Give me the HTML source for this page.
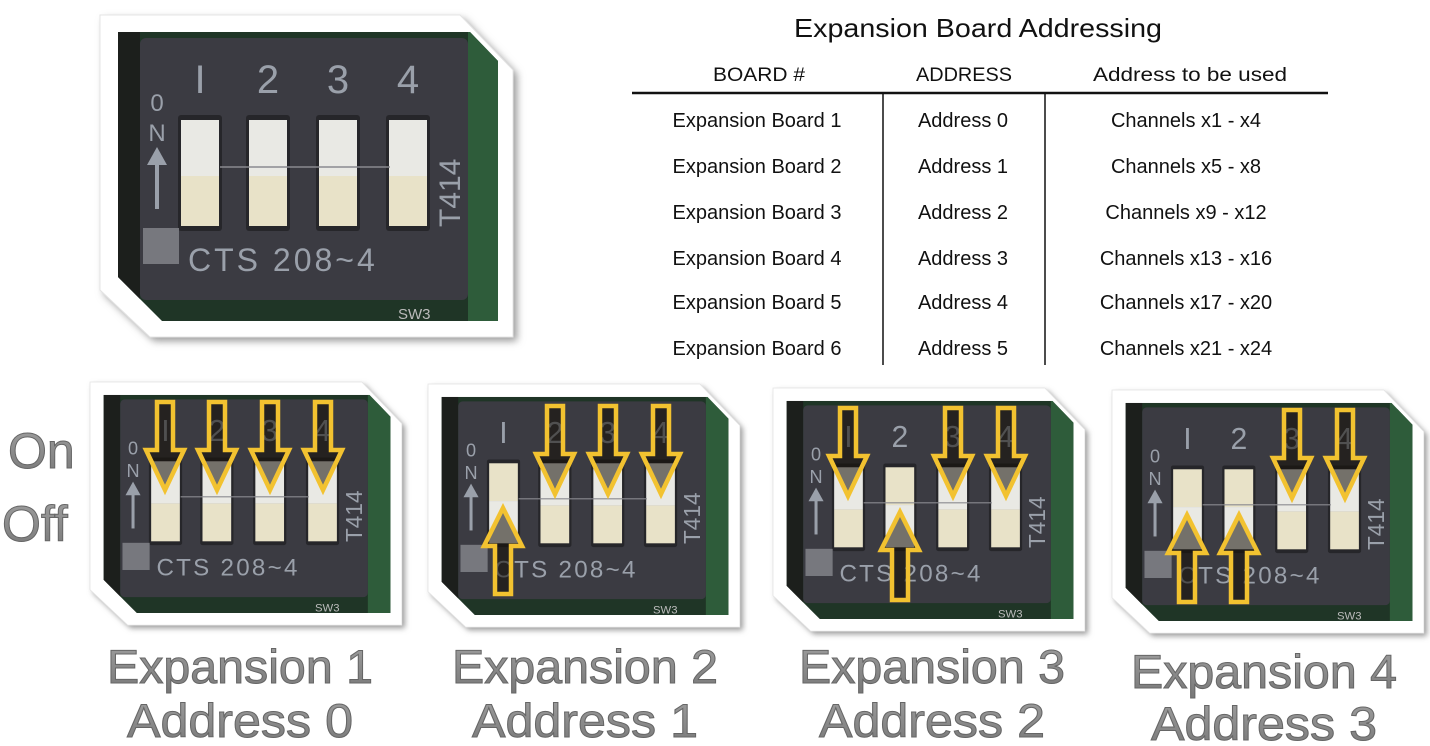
<!DOCTYPE html>
<html><head><meta charset="utf-8"><style>
html,body{margin:0;padding:0;background:#fff;}
svg{display:block;}
.t{font-family:"Liberation Sans",sans-serif;}
</style></head><body>
<svg width="1430" height="746" viewBox="0 0 1430 746" xmlns="http://www.w3.org/2000/svg">
<defs>
<filter id="sh" x="-10%" y="-10%" width="120%" height="120%"><feGaussianBlur stdDeviation="4"/></filter>
<linearGradient id="gt" x1="0" y1="0" x2="0" y2="1"><stop offset="0" stop-color="#a0a0a0"/><stop offset="1" stop-color="#777"/></linearGradient>
<clipPath id="fc"><polygon points="18,17 370,17 398,46 398,306 62,306 18,262"/></clipPath>
</defs>

<g transform="translate(100,15)">
 <polygon points="4,4 364,4 417,59 417,326 54,326 4,279" fill="#999" filter="url(#sh)"/>
 <polygon points="0,0 360,0 413,55 413,322 50,322 0,275" fill="#fff" stroke="#e4e4e4"/>
 <g clip-path="url(#fc)">
 <rect x="0" y="0" width="413" height="322" fill="#1f3526"/>
 <rect x="368" y="17" width="40" height="291" fill="#2e5c3a"/>
 <rect x="18" y="17" width="22" height="291" fill="#1c1f1c"/>
 <rect x="40" y="23" width="328" height="262" rx="6" fill="#3b3b42"/>
 <rect x="78" y="100" width="44" height="116" rx="3" fill="#26262a"/><rect x="146" y="100" width="44" height="116" rx="3" fill="#26262a"/><rect x="216" y="100" width="44" height="116" rx="3" fill="#26262a"/><rect x="286" y="100" width="44" height="116" rx="3" fill="#26262a"/>
 <rect x="81" y="105" width="38" height="56" fill="#e9e9e4"/><rect x="81" y="161" width="38" height="50" fill="#e8e2c8"/>
 <rect x="149" y="105" width="38" height="56" fill="#e9e9e4"/><rect x="149" y="161" width="38" height="50" fill="#e8e2c8"/>
 <rect x="219" y="105" width="38" height="56" fill="#e9e9e4"/><rect x="219" y="161" width="38" height="50" fill="#e8e2c8"/>
 <rect x="289" y="105" width="38" height="56" fill="#e9e9e4"/><rect x="289" y="161" width="38" height="50" fill="#e8e2c8"/>
 <line x1="120" y1="152" x2="290" y2="152" stroke="#8a8a90" stroke-width="1.5"/>
 <g class="t" fill="#9aa0aa" font-size="40" text-anchor="middle"><text x="100" y="78">I</text><text x="168" y="78">2</text><text x="238" y="78">3</text><text x="308" y="78">4</text></g>
 <g class="t" fill="#9aa0aa" font-size="24" text-anchor="middle"><text x="57" y="96">0</text><text x="57" y="126">N</text></g>
 <polygon points="57,132 67,150 47,150" fill="#9aa0aa"/><rect x="55" y="148" width="4" height="46" fill="#9aa0aa"/>
 <rect x="43" y="213" width="36" height="36" fill="#77787e"/>
 <text class="t" x="88" y="256" font-size="32" fill="#9aa0aa" letter-spacing="3">CTS 208~4</text>
 <text class="t" x="0" y="0" font-size="30" fill="#9aa0aa" transform="translate(360,212) rotate(-90)">T414</text>
 <text class="t" x="298" y="304" font-size="15" fill="#bbb">SW3</text>
 </g>
</g>

<g transform="translate(90,382) scale(0.755)">
 <polygon points="4,4 364,4 417,59 417,326 54,326 4,279" fill="#999" filter="url(#sh)"/>
 <polygon points="0,0 360,0 413,55 413,322 50,322 0,275" fill="#fff" stroke="#e4e4e4"/>
 <g clip-path="url(#fc)">
 <rect x="0" y="0" width="413" height="322" fill="#1f3526"/>
 <rect x="368" y="17" width="40" height="291" fill="#2e5c3a"/>
 <rect x="18" y="17" width="22" height="291" fill="#1c1f1c"/>
 <rect x="40" y="23" width="328" height="262" rx="6" fill="#3b3b42"/>
 <rect x="78" y="100" width="44" height="116" rx="3" fill="#26262a"/><rect x="146" y="100" width="44" height="116" rx="3" fill="#26262a"/><rect x="216" y="100" width="44" height="116" rx="3" fill="#26262a"/><rect x="286" y="100" width="44" height="116" rx="3" fill="#26262a"/>
 <rect x="81" y="105" width="38" height="56" fill="#e9e9e4"/><rect x="81" y="161" width="38" height="50" fill="#e8e2c8"/>
 <rect x="149" y="105" width="38" height="56" fill="#e9e9e4"/><rect x="149" y="161" width="38" height="50" fill="#e8e2c8"/>
 <rect x="219" y="105" width="38" height="56" fill="#e9e9e4"/><rect x="219" y="161" width="38" height="50" fill="#e8e2c8"/>
 <rect x="289" y="105" width="38" height="56" fill="#e9e9e4"/><rect x="289" y="161" width="38" height="50" fill="#e8e2c8"/>
 <line x1="120" y1="152" x2="290" y2="152" stroke="#8a8a90" stroke-width="1.5"/>
 <g class="t" fill="#9aa0aa" font-size="40" text-anchor="middle"><text x="100" y="78">I</text><text x="168" y="78">2</text><text x="238" y="78">3</text><text x="308" y="78">4</text></g>
 <g class="t" fill="#9aa0aa" font-size="24" text-anchor="middle"><text x="57" y="96">0</text><text x="57" y="126">N</text></g>
 <polygon points="57,132 67,150 47,150" fill="#9aa0aa"/><rect x="55" y="148" width="4" height="46" fill="#9aa0aa"/>
 <rect x="43" y="213" width="36" height="36" fill="#77787e"/>
 <text class="t" x="88" y="256" font-size="32" fill="#9aa0aa" letter-spacing="3">CTS 208~4</text>
 <text class="t" x="0" y="0" font-size="30" fill="#9aa0aa" transform="translate(360,212) rotate(-90)">T414</text>
 <text class="t" x="298" y="304" font-size="15" fill="#bbb">SW3</text>
 </g>
</g>

<g transform="translate(428,384) scale(0.755)">
 <polygon points="4,4 364,4 417,59 417,326 54,326 4,279" fill="#999" filter="url(#sh)"/>
 <polygon points="0,0 360,0 413,55 413,322 50,322 0,275" fill="#fff" stroke="#e4e4e4"/>
 <g clip-path="url(#fc)">
 <rect x="0" y="0" width="413" height="322" fill="#1f3526"/>
 <rect x="368" y="17" width="40" height="291" fill="#2e5c3a"/>
 <rect x="18" y="17" width="22" height="291" fill="#1c1f1c"/>
 <rect x="40" y="23" width="328" height="262" rx="6" fill="#3b3b42"/>
 <rect x="78" y="100" width="44" height="116" rx="3" fill="#26262a"/><rect x="146" y="100" width="44" height="116" rx="3" fill="#26262a"/><rect x="216" y="100" width="44" height="116" rx="3" fill="#26262a"/><rect x="286" y="100" width="44" height="116" rx="3" fill="#26262a"/>
 <rect x="81" y="105" width="38" height="50" fill="#e8e2c8"/><rect x="81" y="155" width="38" height="56" fill="#e9e9e4"/>
 <rect x="149" y="105" width="38" height="56" fill="#e9e9e4"/><rect x="149" y="161" width="38" height="50" fill="#e8e2c8"/>
 <rect x="219" y="105" width="38" height="56" fill="#e9e9e4"/><rect x="219" y="161" width="38" height="50" fill="#e8e2c8"/>
 <rect x="289" y="105" width="38" height="56" fill="#e9e9e4"/><rect x="289" y="161" width="38" height="50" fill="#e8e2c8"/>
 <line x1="120" y1="152" x2="290" y2="152" stroke="#8a8a90" stroke-width="1.5"/>
 <g class="t" fill="#9aa0aa" font-size="40" text-anchor="middle"><text x="100" y="78">I</text><text x="168" y="78">2</text><text x="238" y="78">3</text><text x="308" y="78">4</text></g>
 <g class="t" fill="#9aa0aa" font-size="24" text-anchor="middle"><text x="57" y="96">0</text><text x="57" y="126">N</text></g>
 <polygon points="57,132 67,150 47,150" fill="#9aa0aa"/><rect x="55" y="148" width="4" height="46" fill="#9aa0aa"/>
 <rect x="43" y="213" width="36" height="36" fill="#77787e"/>
 <text class="t" x="88" y="256" font-size="32" fill="#9aa0aa" letter-spacing="3">CTS 208~4</text>
 <text class="t" x="0" y="0" font-size="30" fill="#9aa0aa" transform="translate(360,212) rotate(-90)">T414</text>
 <text class="t" x="298" y="304" font-size="15" fill="#bbb">SW3</text>
 </g>
</g>

<g transform="translate(773,388) scale(0.755)">
 <polygon points="4,4 364,4 417,59 417,326 54,326 4,279" fill="#999" filter="url(#sh)"/>
 <polygon points="0,0 360,0 413,55 413,322 50,322 0,275" fill="#fff" stroke="#e4e4e4"/>
 <g clip-path="url(#fc)">
 <rect x="0" y="0" width="413" height="322" fill="#1f3526"/>
 <rect x="368" y="17" width="40" height="291" fill="#2e5c3a"/>
 <rect x="18" y="17" width="22" height="291" fill="#1c1f1c"/>
 <rect x="40" y="23" width="328" height="262" rx="6" fill="#3b3b42"/>
 <rect x="78" y="100" width="44" height="116" rx="3" fill="#26262a"/><rect x="146" y="100" width="44" height="116" rx="3" fill="#26262a"/><rect x="216" y="100" width="44" height="116" rx="3" fill="#26262a"/><rect x="286" y="100" width="44" height="116" rx="3" fill="#26262a"/>
 <rect x="81" y="105" width="38" height="56" fill="#e9e9e4"/><rect x="81" y="161" width="38" height="50" fill="#e8e2c8"/>
 <rect x="149" y="105" width="38" height="50" fill="#e8e2c8"/><rect x="149" y="155" width="38" height="56" fill="#e9e9e4"/>
 <rect x="219" y="105" width="38" height="56" fill="#e9e9e4"/><rect x="219" y="161" width="38" height="50" fill="#e8e2c8"/>
 <rect x="289" y="105" width="38" height="56" fill="#e9e9e4"/><rect x="289" y="161" width="38" height="50" fill="#e8e2c8"/>
 <line x1="120" y1="152" x2="290" y2="152" stroke="#8a8a90" stroke-width="1.5"/>
 <g class="t" fill="#9aa0aa" font-size="40" text-anchor="middle"><text x="100" y="78">I</text><text x="168" y="78">2</text><text x="238" y="78">3</text><text x="308" y="78">4</text></g>
 <g class="t" fill="#9aa0aa" font-size="24" text-anchor="middle"><text x="57" y="96">0</text><text x="57" y="126">N</text></g>
 <polygon points="57,132 67,150 47,150" fill="#9aa0aa"/><rect x="55" y="148" width="4" height="46" fill="#9aa0aa"/>
 <rect x="43" y="213" width="36" height="36" fill="#77787e"/>
 <text class="t" x="88" y="256" font-size="32" fill="#9aa0aa" letter-spacing="3">CTS 208~4</text>
 <text class="t" x="0" y="0" font-size="30" fill="#9aa0aa" transform="translate(360,212) rotate(-90)">T414</text>
 <text class="t" x="298" y="304" font-size="15" fill="#bbb">SW3</text>
 </g>
</g>

<g transform="translate(1112,390) scale(0.755)">
 <polygon points="4,4 364,4 417,59 417,326 54,326 4,279" fill="#999" filter="url(#sh)"/>
 <polygon points="0,0 360,0 413,55 413,322 50,322 0,275" fill="#fff" stroke="#e4e4e4"/>
 <g clip-path="url(#fc)">
 <rect x="0" y="0" width="413" height="322" fill="#1f3526"/>
 <rect x="368" y="17" width="40" height="291" fill="#2e5c3a"/>
 <rect x="18" y="17" width="22" height="291" fill="#1c1f1c"/>
 <rect x="40" y="23" width="328" height="262" rx="6" fill="#3b3b42"/>
 <rect x="78" y="100" width="44" height="116" rx="3" fill="#26262a"/><rect x="146" y="100" width="44" height="116" rx="3" fill="#26262a"/><rect x="216" y="100" width="44" height="116" rx="3" fill="#26262a"/><rect x="286" y="100" width="44" height="116" rx="3" fill="#26262a"/>
 <rect x="81" y="105" width="38" height="50" fill="#e8e2c8"/><rect x="81" y="155" width="38" height="56" fill="#e9e9e4"/>
 <rect x="149" y="105" width="38" height="50" fill="#e8e2c8"/><rect x="149" y="155" width="38" height="56" fill="#e9e9e4"/>
 <rect x="219" y="105" width="38" height="56" fill="#e9e9e4"/><rect x="219" y="161" width="38" height="50" fill="#e8e2c8"/>
 <rect x="289" y="105" width="38" height="56" fill="#e9e9e4"/><rect x="289" y="161" width="38" height="50" fill="#e8e2c8"/>
 <line x1="120" y1="152" x2="290" y2="152" stroke="#8a8a90" stroke-width="1.5"/>
 <g class="t" fill="#9aa0aa" font-size="40" text-anchor="middle"><text x="100" y="78">I</text><text x="168" y="78">2</text><text x="238" y="78">3</text><text x="308" y="78">4</text></g>
 <g class="t" fill="#9aa0aa" font-size="24" text-anchor="middle"><text x="57" y="96">0</text><text x="57" y="126">N</text></g>
 <polygon points="57,132 67,150 47,150" fill="#9aa0aa"/><rect x="55" y="148" width="4" height="46" fill="#9aa0aa"/>
 <rect x="43" y="213" width="36" height="36" fill="#77787e"/>
 <text class="t" x="88" y="256" font-size="32" fill="#9aa0aa" letter-spacing="3">CTS 208~4</text>
 <text class="t" x="0" y="0" font-size="30" fill="#9aa0aa" transform="translate(360,212) rotate(-90)">T414</text>
 <text class="t" x="298" y="304" font-size="15" fill="#bbb">SW3</text>
 </g>
</g>

<!-- Arrows -->
<g fill="rgba(20,15,5,0.55)" stroke="#f2c230" stroke-width="4.5" stroke-linejoin="miter">
 <polygon points="157,402 173,402 173,450 184,450 165,490 146,450 157,450"/>
 <polygon points="209,402 225,402 225,450 236,450 217,490 198,450 209,450"/>
 <polygon points="262,402 278,402 278,450 289,450 270,490 251,450 262,450"/>
 <polygon points="315,402 331,402 331,450 342,450 323,490 304,450 315,450"/>
 <polygon points="503,508 522,546 511,546 511,594 495,594 495,546 484,546"/>
 <polygon points="547,406 563,406 563,454 574,454 555,494 536,454 547,454"/>
 <polygon points="600,406 616,406 616,454 627,454 608,494 589,454 600,454"/>
 <polygon points="653,406 669,406 669,454 680,454 661,494 642,454 653,454"/>
 <polygon points="840,408 856,408 856,456 867,456 848,496 829,456 840,456"/>
 <polygon points="900,512 919,550 908,550 908,600 892,600 892,550 881,550"/>
 <polygon points="945,408 961,408 961,456 972,456 953,496 934,456 945,456"/>
 <polygon points="998,408 1014,408 1014,456 1025,456 1006,496 987,456 998,456"/>
 <polygon points="1187,515 1206,553 1195,553 1195,602 1179,602 1179,553 1168,553"/>
 <polygon points="1239,515 1258,553 1247,553 1247,602 1231,602 1231,553 1220,553"/>
 <polygon points="1284,410 1300,410 1300,458 1311,458 1292,498 1273,458 1284,458"/>
 <polygon points="1337,410 1353,410 1353,458 1364,458 1345,498 1326,458 1337,458"/>
</g>

<!-- Table -->
<g class="t" fill="#111" text-anchor="middle">
 <text x="978" y="37" font-size="26" textLength="368" lengthAdjust="spacingAndGlyphs">Expansion Board Addressing</text>
 <g font-size="19">
  <text x="759" y="81" textLength="92" lengthAdjust="spacingAndGlyphs">BOARD #</text>
  <text x="964" y="81" textLength="96" lengthAdjust="spacingAndGlyphs">ADDRESS</text>
  <text x="1190" y="81" textLength="194" lengthAdjust="spacingAndGlyphs">Address to be used</text>
 </g>
 <g font-size="20">
  <text x="757" y="127">Expansion Board 1</text><text x="963" y="127">Address 0</text><text x="1186" y="127">Channels x1 - x4</text>
  <text x="757" y="173">Expansion Board 2</text><text x="963" y="173">Address 1</text><text x="1186" y="173">Channels x5 - x8</text>
  <text x="757" y="219">Expansion Board 3</text><text x="963" y="219">Address 2</text><text x="1186" y="219">Channels x9 - x12</text>
  <text x="757" y="265">Expansion Board 4</text><text x="963" y="265">Address 3</text><text x="1186" y="265">Channels x13 - x16</text>
  <text x="757" y="309">Expansion Board 5</text><text x="963" y="309">Address 4</text><text x="1186" y="309">Channels x17 - x20</text>
  <text x="757" y="355">Expansion Board 6</text><text x="963" y="355">Address 5</text><text x="1186" y="355">Channels x21 - x24</text>
 </g>
</g>
<line x1="632" y1="93" x2="1328" y2="93" stroke="#111" stroke-width="2.5"/>
<line x1="883" y1="94" x2="883" y2="365" stroke="#111" stroke-width="1.5"/>
<line x1="1045" y1="94" x2="1045" y2="365" stroke="#111" stroke-width="1.5"/>

<!-- Big labels -->
<g class="t" fill="url(#gt)" stroke="#666" stroke-width="1" font-size="50">
 <text x="8" y="468">On</text>
 <text x="2" y="541">Off</text>
</g>
<g class="t" fill="url(#gt)" stroke="#666" stroke-width="1" font-size="47" text-anchor="middle">
 <text x="240" y="683" textLength="266" lengthAdjust="spacingAndGlyphs">Expansion 1</text>
 <text x="240" y="737" textLength="226" lengthAdjust="spacingAndGlyphs">Address 0</text>
 <text x="585" y="683" textLength="266" lengthAdjust="spacingAndGlyphs">Expansion 2</text>
 <text x="585" y="737" textLength="226" lengthAdjust="spacingAndGlyphs">Address 1</text>
 <text x="932" y="683" textLength="266" lengthAdjust="spacingAndGlyphs">Expansion 3</text>
 <text x="932" y="737" textLength="226" lengthAdjust="spacingAndGlyphs">Address 2</text>
 <text x="1264" y="688" textLength="266" lengthAdjust="spacingAndGlyphs">Expansion 4</text>
 <text x="1264" y="740" textLength="226" lengthAdjust="spacingAndGlyphs">Address 3</text>
</g>
</svg>
</body></html>
